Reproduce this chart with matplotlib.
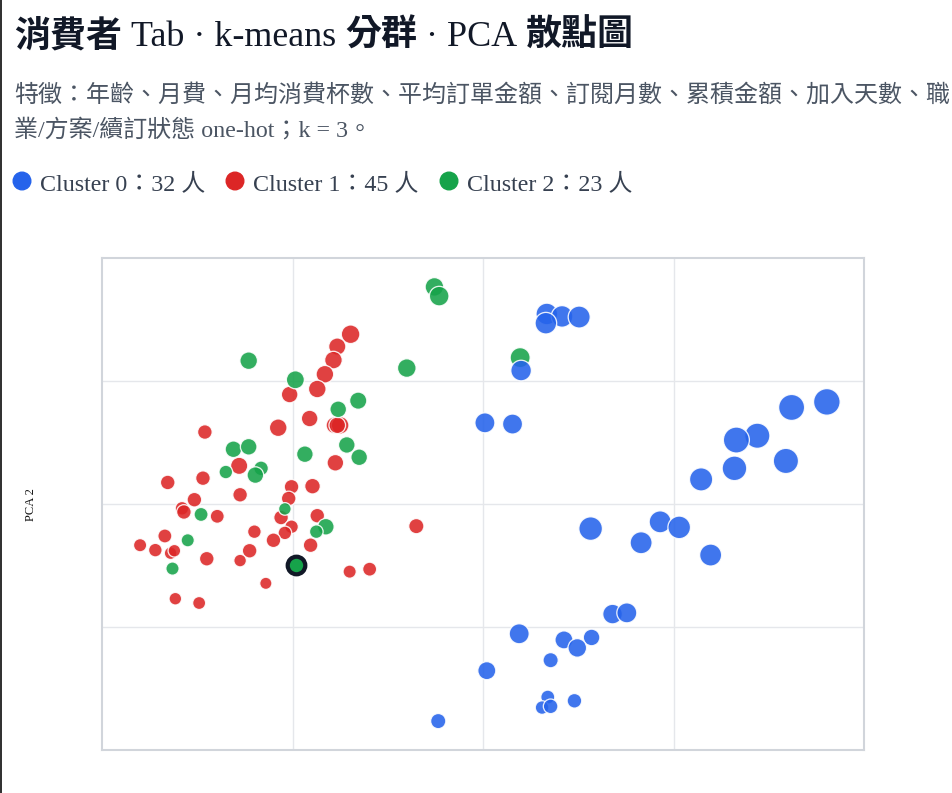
import matplotlib
matplotlib.use("Agg")
import matplotlib.pyplot as plt
from matplotlib.patches import Circle

# ---------------- data (PCA coordinates) ----------------
c0_x = [0.67, 0.83, 0.66, 1.01, 0.40, 0.02, 0.31, 3.61, 3.24, 2.88, 2.66, 3.18,
        2.64, 2.29, 1.13, 1.86, 2.06, 1.66, 2.39, 1.36, 1.51, 0.38, 0.85, 1.14,
        0.99, 0.71, 0.04, 0.68, 0.62, 0.71, 0.96, -0.47]
c0_y = [3.09, 3.05, 2.94, 3.04, 2.17, 1.32, 1.30, 1.66, 1.57, 1.11, 1.04, 0.70,
        0.58, 0.40, -0.40, -0.29, -0.38, -0.63, -0.83, -1.79, -1.77, -2.11, -2.21, -2.17,
        -2.34, -2.54, -2.71, -3.14, -3.31, -3.29, -3.20, -3.53]
c0_v = [10.5, 10.5, 10.5, 10.7, 10.0, 9.7, 9.7, 13.0, 12.7, 12.3, 12.7, 12.3,
        12.0, 11.3, 11.5, 10.7, 11.0, 10.7, 10.7, 9.5, 9.7, 9.7, 8.7, 8.0,
        9.0, 7.3, 8.7, 6.7, 6.5, 7.0, 7.0, 7.3]

c1_x = [-1.39, -1.53, -1.57, -1.66, -1.74, -2.03, -1.82, -1.56, -1.50, -2.15,
        -2.92, -1.55, -2.56, -2.94, -3.31, -2.55, -2.01, -1.79, -2.04, -3.03,
        -3.16, -3.14, -2.79, -2.12, -1.74, -2.01, -2.08, -2.40, -2.20, -2.45,
        -1.81, -2.90, -2.55, -0.70, -1.40, -1.19, -2.28, -3.34, -3.60, -3.44,
        -3.28, -3.24, -3.23, -2.98, -1.53]
c1_y = [2.76, 2.56, 2.34, 2.11, 1.87, 1.78, 1.39, 1.28, 1.28, 1.24,
        1.17, 0.67, 0.62, 0.42, 0.35, 0.15, 0.28, 0.29, 0.09, 0.07,
        -0.07, -0.13, -0.20, -0.22, -0.19, -0.37, -0.47, -0.45, -0.59, -0.76,
        -0.67, -0.89, -0.92, -0.36, -1.10, -1.06, -1.29, -0.52, -0.67, -0.75,
        -0.80, -0.76, -1.54, -1.61, 1.28]
c1_v = [9.0, 8.3, 8.5, 8.5, 8.5, 8.0, 8.0, 8.0, 8.5, 8.5,
        7.0, 8.0, 8.3, 7.0, 7.0, 7.0, 7.0, 7.5, 7.0, 7.0,
        6.5, 7.0, 6.7, 7.0, 7.0, 6.5, 6.5, 6.5, 7.0, 7.0,
        7.0, 7.0, 6.0, 7.3, 6.3, 6.7, 5.8, 6.7, 6.3, 6.5,
        6.0, 6.0, 6.0, 6.2, 8.0]

c2_x = [-0.51, -0.46, -2.46, -1.97, -0.80, -1.31, -1.52, -1.43, -1.30, -1.87,
        -2.62, -2.46, -2.70, -2.33, -2.39, -2.96, -2.08, -1.65, -1.75, -1.96,
        -3.10, -3.26, 0.39]
c2_y = [3.53, 3.38, 2.33, 2.02, 2.21, 1.68, 1.54, 0.96, 0.76, 0.81,
        0.89, 0.93, 0.52, 0.58, 0.47, -0.17, -0.08, -0.37, -0.45, -0.99,
        -0.59, -1.05, 2.38]
c2_v = [9.0, 9.5, 8.5, 8.7, 9.0, 8.3, 8.0, 8.0, 8.0, 8.0,
        8.0, 8.0, 6.5, 7.0, 8.0, 6.7, 6.0, 8.0, 6.5, 7.0,
        6.3, 6.3, 9.7]
highlight_cluster = 2
highlight_index = 19

cluster_names = ["Cluster 0", "Cluster 1", "Cluster 2"]
title_runs = ["消費者", "Tab · k-means", "分群", "· PCA", "散點圖"]
subtitle_lines = ["特徵：年齡、月費、月均消費杯數、平均訂單金額、訂閱月數、累積金額、加入天數、職",
                  "業/方案/續訂狀態 one-hot；k = 3。"]
y_label = "PCA 2"
x_grid = [-2, 0, 2]
y_grid = [-2, 0, 2]

# ---------------- styling ----------------
W, H, DPI = 952, 793, 100
colors = ["#2563eb", "#dc2626", "#16a34a"]
SERIF = "Liberation Serif"
CJK = "Noto Sans CJK TC"
FAM = [SERIF, CJK]

fig = plt.figure(figsize=(W / DPI, H / DPI), dpi=DPI)
fig.patch.set_facecolor("white")


def pt(px):
    return px * 72.0 / DPI


# ---------------- plot area ----------------
ax = fig.add_axes([102 / W, (H - 750) / H, 762 / W, 492 / H])
ax.set_xlim(-4, 4)
ax.set_ylim(-4, 4)
ax.set_xticks(x_grid)
ax.set_yticks(y_grid)
ax.set_xticklabels([])
ax.set_yticklabels([])
ax.tick_params(length=0)
ax.grid(True, color="#e5e7eb", linewidth=1.0)
ax.set_axisbelow(True)
for sp in ax.spines.values():
    sp.set_color("#d1d5db")
    sp.set_linewidth(1.5)

series = [(c1_x, c1_y, c1_v, 1), (c2_x, c2_y, c2_v, 2), (c0_x, c0_y, c0_v, 0)]
for xs, ys, vs, ci in series:
    sizes = [(2 * pt(v + 0.3)) ** 2 for v in vs]
    ax.scatter(xs, ys, s=sizes, color=colors[ci], alpha=0.88,
               edgecolors="white", linewidths=pt(1.3), zorder=3)

hx = c2_x[highlight_index]
hy = c2_y[highlight_index]
hv = c2_v[highlight_index]
ax.scatter([hx], [hy], s=[(2 * pt(hv + 1.8)) ** 2], color=colors[highlight_cluster],
           edgecolors="#111827", linewidths=pt(4.2), zorder=5)

# ---------------- overlay in pixel coordinates ----------------
ov = fig.add_axes([0, 0, 1, 1], zorder=-1)
ov.set_xlim(0, W)
ov.set_ylim(H, 0)
ov.axis("off")
ov.plot([1, 1], [0, H], color="#333333", linewidth=pt(2))

renderer = fig.canvas.get_renderer()

# title made of runs: CJK bold, Latin regular serif
tsize = pt(36)
x = 14
space = 0.25 * 36
for i, run in enumerate(title_runs):
    is_cjk = i % 2 == 0
    t = ov.text(x, 46, run, fontsize=tsize,
                family=[CJK] if is_cjk else FAM,
                weight="bold" if is_cjk else "normal",
                color="#111827", va="baseline", ha="left")
    bb = t.get_window_extent(renderer)
    x += bb.width + space

# subtitle
ov.text(14, 102, subtitle_lines[0], fontsize=pt(24), family=FAM,
        color="#4b5563", va="baseline", ha="left")
ov.text(14, 137, subtitle_lines[1], fontsize=pt(24), family=FAM,
        color="#4b5563", va="baseline", ha="left")

# legend
counts = [len(c0_x), len(c1_x), len(c2_x)]
dot_x = [22, 235, 449]
for i in range(3):
    ov.add_patch(Circle((dot_x[i], 181), 8.8, color=colors[i], zorder=3))
    ov.text(dot_x[i] + 18, 190, f"{cluster_names[i]}：{counts[i]} 人",
            fontsize=pt(24), family=FAM, color="#374151",
            va="baseline", ha="left")

# y axis label
ov.text(31, 505, y_label, fontsize=pt(12.5), family=FAM, color="#111111",
        rotation=90, ha="center", va="center")

fig.savefig("out.png", dpi=DPI, facecolor="white")
